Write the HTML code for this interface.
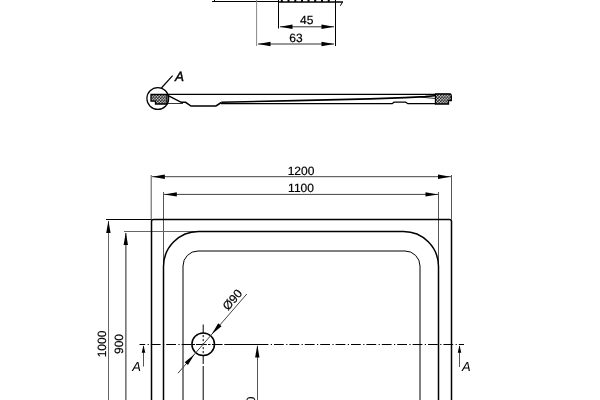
<!DOCTYPE html>
<html><head><meta charset="utf-8">
<style>
html,body{margin:0;padding:0;background:#fff;width:600px;height:400px;overflow:hidden}
body{filter:grayscale(1)}
svg{display:block}
text{font-family:"Liberation Sans",sans-serif;fill:#000;stroke:#000;stroke-width:0.2;text-rendering:geometricPrecision}
</style></head><body>
<svg width="600" height="400" viewBox="0 0 600 400">
<defs>
<pattern id="dots" width="2.8" height="3" patternUnits="userSpaceOnUse" x="0.3" y="0.2">
<rect width="2.8" height="3" fill="#000"/><circle cx="0.7" cy="0.75" r="0.8" fill="#fff"/><circle cx="2.1" cy="2.25" r="0.8" fill="#fff"/>
</pattern>
<path id="ar" d="M0 0L12.5 -2.2V2.2Z"/>
</defs>

<!-- ===== top detail ===== -->
<g fill="none" stroke="#000">
<path d="M212 1.5H278.5M214.5 0V1.5" stroke-width="1"/>
<path d="M278.5 2H343" stroke-width="1.4"/>
<path d="M281.8 0V2M288.5 0V2M295.3 0V2M302 0V2M308.5 0V2M315.2 0V2M322 0V2M328.7 0V2" stroke-width="2"/>
<path d="M342.3 2.5L340.3 5.8" stroke-width="1"/>
<path d="M256.6 0V46" stroke-width="1" stroke="#888"/>
<path d="M278.5 0V28.5M335.5 0V46" stroke-width="1"/>
<path d="M280 26.8H334M258 44H334" stroke-width="1" stroke="#333"/>
</g>
<g fill="#000">
<use href="#ar" transform="translate(280 26.8)"/><use href="#ar" transform="translate(334 26.8) rotate(180)"/>
<use href="#ar" transform="translate(258 44)"/><use href="#ar" transform="translate(334 44) rotate(180)"/>
</g>
<text x="306.8" y="24.4" font-size="12" text-anchor="middle">45</text>
<text x="296" y="41.5" font-size="12" text-anchor="middle">63</text>

<!-- ===== profile ===== -->
<g fill="none" stroke="#000">
<circle cx="157.8" cy="98.5" r="10.9" stroke-width="1.2"/>
<path d="M161.4 88L172.6 75.7" stroke-width="1.2"/>
<path d="M151 94.5H167V104H155.5V101.2H151Z" fill="url(#dots)" stroke-width="1.3"/>
<path d="M167 94.4H451" stroke-width="1.2"/>
<path d="M167.7 95.3L181.3 102.3H185.6L191 106H216L221.3 102.5" stroke-width="1.5"/>
<path d="M221.3 102.3L295 100.6L370 98.9L405 97.6L425 96.6L437 95.5" stroke-width="1.6"/>
<path d="M420 97L437 98.7" stroke-width="0.8"/>
<path d="M167.7 103.5H183" stroke-width="0.8"/>
<path d="M221 103.7H392.2L394 102.2H405.6L407.9 103.7H436" stroke-width="1.3"/>
<path d="M435.5 94H449.5Q451.3 94 451.3 95.8V100.5H448.5V104H435.5Z" fill="url(#dots)" stroke-width="1.3"/>
</g>
<text x="175" y="80.5" font-size="13.5" font-style="italic" style="stroke-width:0.4">A</text>

<!-- ===== plan ===== -->
<g fill="none" stroke="#000" stroke-width="1">
<path d="M151.2 175V219.5M451.5 175V219.5" stroke="#555"/>
<path d="M163.5 192V268M438.5 192V268" stroke="#555"/>
<path d="M152 176.7H451M164 194.4H438" stroke="#444"/>
<path d="M106 219.5H151.5"/>
<path d="M124 231.5H199" stroke="#666"/>
<path d="M108.5 221V400" stroke="#666"/><path d="M125.9 233V400" stroke="#222"/>
</g>
<g fill="#000">
<use href="#ar" transform="translate(152.3 176.7)"/><use href="#ar" transform="translate(450.5 176.7) rotate(180)"/>
<use href="#ar" transform="translate(164.3 194.4)"/><use href="#ar" transform="translate(438 194.4) rotate(180)"/>
<use href="#ar" transform="translate(108.4 220.5) rotate(90)"/><use href="#ar" transform="translate(125.8 232.5) rotate(90)"/>
</g>
<text x="301" y="174.8" font-size="12" text-anchor="middle">1200</text>
<text x="301" y="192" font-size="12" text-anchor="middle">1100</text>
<g fill="none" stroke="#000" stroke-width="1.5">
<path d="M151.5 400V221.5Q151.5 219.5 153.5 219.5H449.5Q451.5 219.5 451.5 221.5V400"/>
<path d="M163.5 400V266.5A35 35 0 0 1 198.5 231.5H403.5A35 35 0 0 1 438.5 266.5V400"/>
</g>
<g fill="none" stroke="#000" stroke-width="1">
<path d="M183 400V266A15 15 0 0 1 198 251H405A15 15 0 0 1 420 266V400"/>
</g>
<text transform="translate(106.4 344) rotate(-90)" font-size="12" text-anchor="middle">1000</text>
<text transform="translate(123.4 344) rotate(-90)" font-size="12" text-anchor="middle">900</text>

<!-- center lines -->
<g fill="none" stroke="#000" stroke-width="1">
<path d="M139.5 344.5H464" stroke-dasharray="9.8 2.4 1.2 2" stroke-dashoffset="4.1"/>
<path d="M214.5 344.5H222.5M224.5 344.5H268"/>
<path d="M203.2 324.5V333M203.2 356V364M203.2 366V400"/>
<path d="M203.2 335V356M192 344.5H214.5" stroke-dasharray="2.2 1.8"/>
<circle cx="203.2" cy="344.3" r="11.3" stroke-width="1.5"/>
<path d="M178 373.2L246.8 294" stroke="#444"/>
<path d="M143.5 346V366.5M459.5 346V367M257.5 346V400" stroke="#555"/>
</g>
<g fill="#000">
<path d="M143.5 345.3L141.7 352.7H145.3Z"/>
<path d="M459.5 345.3L457.7 352.7H461.3Z"/>
<use href="#ar" transform="translate(257.3 345) rotate(90)"/>
<use href="#ar" transform="translate(211.7 334.2) rotate(-49)"/>
<use href="#ar" transform="translate(194.5 354.2) rotate(131)"/>
</g>
<text transform="translate(232.5 299.75) rotate(-49)" font-size="12" text-anchor="middle" dy="4">Ø90</text>
<text x="132.2" y="371.3" font-size="13" font-style="italic" style="stroke-width:0">A</text>
<text x="462" y="370.8" font-size="13" font-style="italic" style="stroke-width:0">A</text>
<text transform="translate(255.2 396.6) rotate(-90)" font-size="12" text-anchor="end">600</text>
</svg>
</body></html>
